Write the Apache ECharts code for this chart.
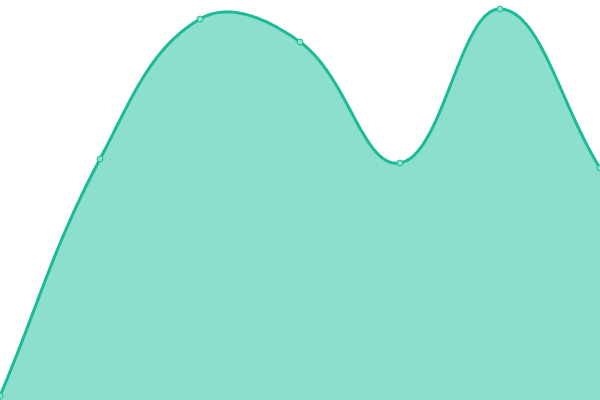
<!DOCTYPE html>
<html>
<head>
<meta charset="utf-8">
<script src="https://cdn.jsdelivr.net/npm/echarts@6/dist/echarts.min.js"></script>
<style>html,body{margin:0;padding:0;background:#fff;}#c{width:600px;height:400px;}</style>
</head>
<body>
<div id="c"></div>
<script>
var categories = ['A', 'B', 'C', 'D', 'E', 'F', 'G'];
var values = [4, 241, 381, 358, 237, 391, 232];
var yMin = 0;
var yMax = 400;
var tension = 0.4;

function controlPoints(pts) {
  var cps = [];
  for (var i = 0; i < pts.length; i++) {
    var prev = pts[i - 1] || pts[i];
    var cur = pts[i];
    var next = pts[i + 1] || pts[i];
    var d01 = Math.hypot(cur[0] - prev[0], cur[1] - prev[1]);
    var d12 = Math.hypot(next[0] - cur[0], next[1] - cur[1]);
    var s01 = d01 / (d01 + d12 || 1);
    var s12 = d12 / (d01 + d12 || 1);
    var fa = tension * s01, fb = tension * s12;
    var dx = next[0] - prev[0], dy = next[1] - prev[1];
    cps.push({
      p: [cur[0] - fa * dx, cur[1] - fa * dy],
      n: [cur[0] + fb * dx, cur[1] + fb * dy]
    });
  }
  return cps;
}

function sample(pts) {
  var cps = controlPoints(pts);
  var out = [pts[0]];
  for (var i = 0; i < pts.length - 1; i++) {
    var a = pts[i], b = cps[i].n, c = cps[i + 1].p, d = pts[i + 1];
    for (var k = 1; k <= 40; k++) {
      var t = k / 40, u = 1 - t;
      out.push([
        u*u*u*a[0] + 3*u*u*t*b[0] + 3*u*t*t*c[0] + t*t*t*d[0],
        u*u*u*a[1] + 3*u*u*t*b[1] + 3*u*t*t*c[1] + t*t*t*d[1]
      ]);
    }
  }
  return out;
}

var chart = echarts.init(document.getElementById('c'));
chart.setOption({
  animation: false,
  grid: { left: 0, right: 0, top: 0, bottom: 0 },
  xAxis: { type: 'category', data: categories, boundaryGap: false, show: false },
  yAxis: { type: 'value', min: yMin, max: yMax, show: false },
  series: [{
    type: 'custom',
    data: values.map(function (v, i) { return [i, v]; }),
    encode: { x: 0, y: 1 },
    renderItem: function (params, api) {
      if (params.dataIndex !== 0) return;
      var pts = values.map(function (v, i) { return api.coord([i, v]); });
      var curve = sample(pts);
      var base = api.coord([0, yMin])[1];
      var area = curve.concat([[pts[pts.length - 1][0], base], [pts[0][0], base]]);
      return {
        type: 'group',
        children: [
          { type: 'polygon', shape: { points: area }, style: { fill: '#8cdecd', stroke: null } },
          { type: 'polyline', shape: { points: curve }, style: { fill: null, stroke: '#1dba98', lineWidth: 3, lineJoin: 'round' } }
        ]
      };
    }
  }, {
    type: 'scatter',
    data: values.map(function (v, i) { return [i, v]; }),
    symbol: 'circle',
    symbolSize: 6,
    z: 5,
    itemStyle: { color: '#8cdecd', borderColor: '#1dba98', borderWidth: 1, opacity: 1 }
  }]
});
</script>
</body>
</html>
